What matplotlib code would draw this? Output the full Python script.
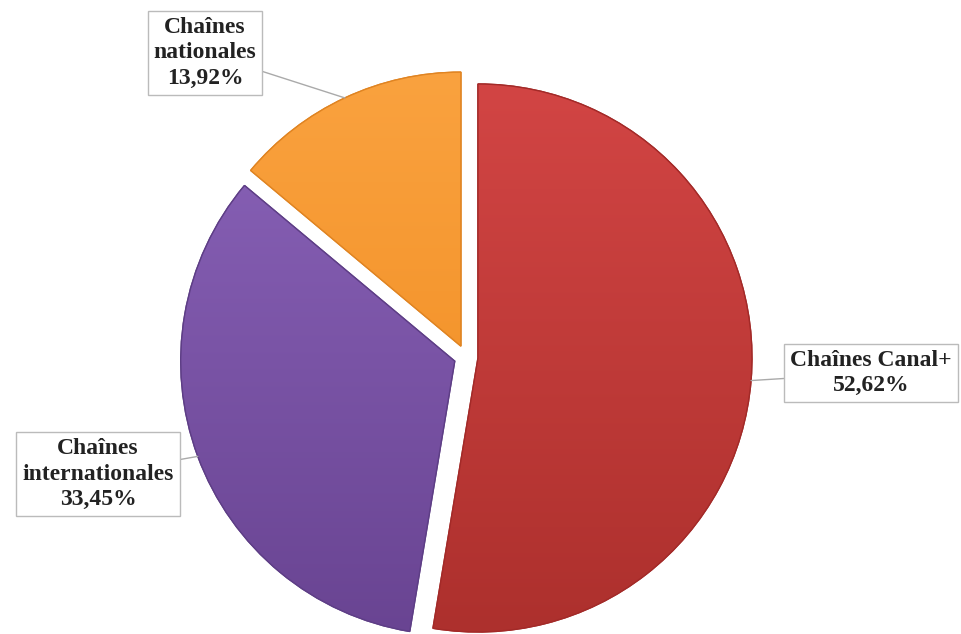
import numpy as np
import matplotlib.pyplot as plt
from matplotlib.colors import to_rgb

# data
labels = ["Chaînes Canal+", "Chaînes\ninternationales", "Chaînes\nnationales"]
shares = [52.62, 33.45, 13.92]
share_text = ["52,62%", "33,45%", "13,92%"]
top_colors = ["#D24544", "#8A63B9", "#FAA23F"]
bottom_colors = ["#AD302D", "#694492", "#EF891C"]
edge_colors = ["#A32A28", "#5E3E86", "#E08422"]

# label box centres, in pixel coordinates of the 961x634 picture (y up)
label_pos = [(871, 261), (98, 160), (205, 581)]

fig = plt.figure(figsize=(9.61, 6.34), dpi=100)
ax = fig.add_axes([0, 0, 1, 1])

radius = 274
centre = (466, 634 - 357)

# explode is in data units here (pixels), not a fraction of the radius
wedges, _ = ax.pie(
    shares,
    colors=top_colors,
    startangle=90,
    counterclock=False,
    explode=[12] * len(shares),
    radius=radius,
    center=centre,
    frame=True,
    wedgeprops=dict(linewidth=1.0),
)
ax.axis("off")
ax.set_xlim(0, 961)
ax.set_ylim(0, 634)
ax.set_aspect("equal")

# vertical gradient fill, clipped to each wedge
for w, c0, c1, ec in zip(wedges, top_colors, bottom_colors, edge_colors):
    w.set_edgecolor(ec)
    cx, cy = w.center
    t = np.linspace(0, 1, 256)[:, None, None]
    grad = (1 - t) * np.array(to_rgb(c0)) + t * np.array(to_rgb(c1))
    im = ax.imshow(
        grad,
        extent=[cx - w.r, cx + w.r, cy - w.r, cy + w.r],
        origin="upper",
        aspect="auto",
        zorder=w.get_zorder() + 0.1,
    )
    im.set_clip_path(w)
    # keep the outline above the gradient
    outline = plt.matplotlib.patches.Wedge(
        (cx, cy), w.r, w.theta1, w.theta2, fill=False, ec=ec, lw=1.0,
        zorder=w.get_zorder() + 0.2,
    )
    ax.add_patch(outline)

ax.set_xlim(0, 961)
ax.set_ylim(0, 634)

for w, lab, pct, pos in zip(wedges, labels, share_text, label_pos):
    mid = np.deg2rad((w.theta1 + w.theta2) / 2)
    cx, cy = w.center
    anchor = (cx + w.r * np.cos(mid), cy + w.r * np.sin(mid))
    ax.annotate(
        f"{lab}\n{pct}",
        xy=anchor,
        xytext=pos,
        ha="center",
        va="center",
        fontsize=17,
        fontweight="bold",
        family="Liberation Serif",
        color="#222222",
        linespacing=1.3,
        zorder=5,
        bbox=dict(boxstyle="square,pad=0.25", fc="white", ec="#BBBBBB", lw=1),
        arrowprops=dict(arrowstyle="-", color="#AAAAAA", lw=1, shrinkA=0, shrinkB=0),
    )

fig.savefig("out.png", dpi=100)
